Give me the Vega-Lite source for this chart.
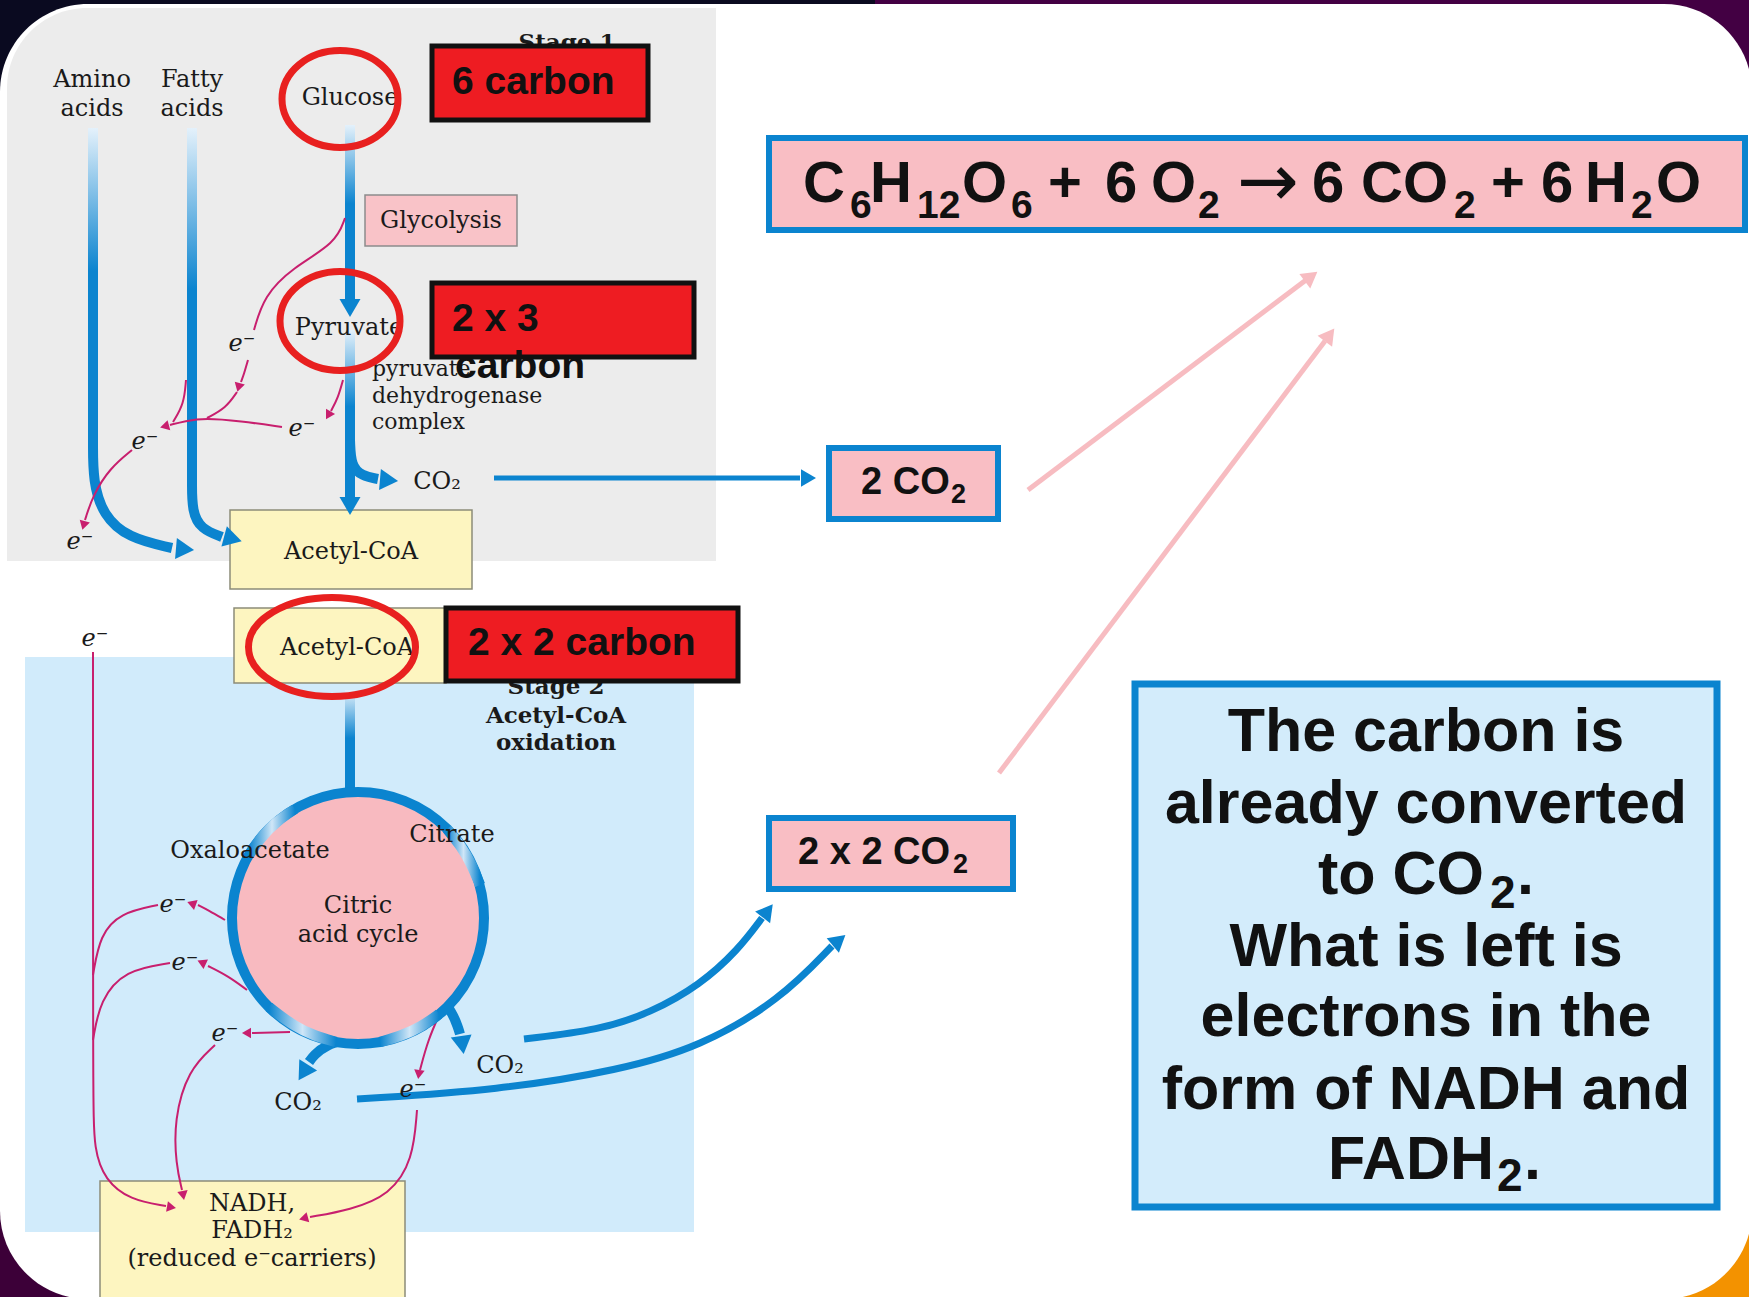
{
 "$schema": "https://vega.github.io/schema/vega-lite/v6.json",
 "width": 1749, "height": 1297,
 "autosize": {"type": "none"},
 "padding": 0,
 "background": "#0a0a20",
 "config": {"view": {"stroke": null}},
 "datasets": {
  "bg": [
   {"k": "tl", "x": 0, "x2": 875, "y": 0, "y2": 648},
   {"k": "tr", "x": 875, "x2": 1749, "y": 0, "y2": 648},
   {"k": "bl", "x": 0, "x2": 875, "y": 648, "y2": 1297},
   {"k": "br", "x": 875, "x2": 1749, "y": 648, "y2": 1297}
  ],
  "panel": [{"x": 0, "x2": 1752, "y": 4, "y2": 1299}],
  "stages": [
   {"k": "s1", "x": 7, "x2": 716, "y": 8, "y2": 561},
   {"k": "s2", "x": 25, "x2": 694, "y": 657, "y2": 1232}
  ],
  "boxes": [
   {"k": "yellow", "x": 230, "x2": 472, "y": 510, "y2": 589},
   {"k": "yellow", "x": 234, "x2": 446, "y": 608, "y2": 683},
   {"k": "yellow", "x": 100, "x2": 405, "y": 1181, "y2": 1310},
   {"k": "glyco", "x": 365, "x2": 517, "y": 195, "y2": 246},
   {"k": "pinkblue", "x": 829, "x2": 998, "y": 448, "y2": 519},
   {"k": "pinkblue", "x": 769, "x2": 1013, "y": 818, "y2": 889},
   {"k": "pinkblue", "x": 769, "x2": 1745, "y": 138, "y2": 230},
   {"k": "note", "x": 1135, "x2": 1717, "y": 684, "y2": 1207}
  ],
  "redboxes": [
   {"x": 432, "x2": 648, "y": 46, "y2": 120},
   {"x": 432, "x2": 694, "y": 283, "y2": 357},
   {"x": 446, "x2": 738, "y": 608, "y2": 681}
  ],
  "shafts": [
   {"x": 93, "y": 128, "y2": 446},
   {"x": 192, "y": 128, "y2": 486},
   {"x": 350, "y": 125, "y2": 300},
   {"x": 350, "y": 330, "y2": 500},
   {"x": 350, "y": 690, "y2": 797}
  ],
  "paths": [
   {"k": "bt", "p": "a1", "o": 1, "x": 93, "y": 440}, {"k": "bt", "p": "a1", "o": 2, "x": 93, "y": 482}, {"k": "bt", "p": "a1", "o": 3, "x": 103, "y": 515}, {"k": "bt", "p": "a1", "o": 4, "x": 128, "y": 538}, {"k": "bt", "p": "a1", "o": 5, "x": 172, "y": 548},
   {"k": "bt", "p": "f1", "o": 1, "x": 192, "y": 480}, {"k": "bt", "p": "f1", "o": 2, "x": 192, "y": 512}, {"k": "bt", "p": "f1", "o": 3, "x": 201, "y": 529}, {"k": "bt", "p": "f1", "o": 4, "x": 222, "y": 537},
   {"k": "bt", "p": "c1", "o": 1, "x": 350, "y": 440}, {"k": "bt", "p": "c1", "o": 2, "x": 351, "y": 466}, {"k": "bt", "p": "c1", "o": 3, "x": 362, "y": 476}, {"k": "bt", "p": "c1", "o": 4, "x": 378, "y": 479},
   {"k": "bt", "p": "r1", "o": 1, "x": 441, "y": 998}, {"k": "bt", "p": "r1", "o": 2, "x": 452, "y": 1012}, {"k": "bt", "p": "r1", "o": 3, "x": 458, "y": 1027}, {"k": "bt", "p": "r1", "o": 4, "x": 460, "y": 1034},
   {"k": "bt", "p": "l1", "o": 1, "x": 347, "y": 1039}, {"k": "bt", "p": "l1", "o": 2, "x": 326, "y": 1045}, {"k": "bt", "p": "l1", "o": 3, "x": 314, "y": 1055}, {"k": "bt", "p": "l1", "o": 4, "x": 309, "y": 1062},
   {"k": "bm", "p": "k1", "o": 1, "x": 524, "y": 1039}, {"k": "bm", "p": "k1", "o": 2, "x": 600, "y": 1030}, {"k": "bm", "p": "k1", "o": 3, "x": 650, "y": 1013}, {"k": "bm", "p": "k1", "o": 4, "x": 700, "y": 985}, {"k": "bm", "p": "k1", "o": 5, "x": 738, "y": 950}, {"k": "bm", "p": "k1", "o": 6, "x": 762, "y": 918},
   {"k": "bm", "p": "k2", "o": 1, "x": 357, "y": 1099}, {"k": "bm", "p": "k2", "o": 2, "x": 500, "y": 1090}, {"k": "bm", "p": "k2", "o": 3, "x": 620, "y": 1070}, {"k": "bm", "p": "k2", "o": 4, "x": 700, "y": 1047}, {"k": "bm", "p": "k2", "o": 5, "x": 780, "y": 1000}, {"k": "bm", "p": "k2", "o": 6, "x": 832, "y": 946},
   {"k": "bn", "p": "h1", "o": 1, "x": 494, "y": 478}, {"k": "bn", "p": "h1", "o": 2, "x": 800, "y": 478},
   {"k": "pk", "p": "q1", "o": 1, "x": 1028, "y": 490}, {"k": "pk", "p": "q1", "o": 2, "x": 1306, "y": 280},
   {"k": "pk", "p": "q2", "o": 1, "x": 999, "y": 773}, {"k": "pk", "p": "q2", "o": 2, "x": 1325, "y": 341},
   {"k": "fade", "p": "g1", "o": 1, "x": 249, "y": 855}, {"k": "fade", "p": "g1", "o": 2, "x": 261, "y": 837}, {"k": "fade", "p": "g1", "o": 3, "x": 277, "y": 821}, {"k": "fade", "p": "g1", "o": 4, "x": 295, "y": 809},
   {"k": "fade", "p": "g2", "o": 1, "x": 447, "y": 829}, {"k": "fade", "p": "g2", "o": 2, "x": 461, "y": 846}, {"k": "fade", "p": "g2", "o": 3, "x": 472, "y": 865}, {"k": "fade", "p": "g2", "o": 4, "x": 480, "y": 885},
   {"k": "fade", "p": "g3", "o": 1, "x": 269, "y": 1007}, {"k": "fade", "p": "g3", "o": 2, "x": 295, "y": 1027}, {"k": "fade", "p": "g3", "o": 3, "x": 315, "y": 1036}, {"k": "fade", "p": "g3", "o": 4, "x": 336, "y": 1042},
   {"k": "fade", "p": "g4", "o": 1, "x": 380, "y": 1042}, {"k": "fade", "p": "g4", "o": 2, "x": 401, "y": 1036}, {"k": "fade", "p": "g4", "o": 3, "x": 421, "y": 1027}, {"k": "fade", "p": "g4", "o": 4, "x": 439, "y": 1014},
   {"k": "mg", "p": "m1", "o": 1, "x": 345, "y": 218}, {"k": "mg", "p": "m1", "o": 2, "x": 336, "y": 243}, {"k": "mg", "p": "m1", "o": 3, "x": 292, "y": 268}, {"k": "mg", "p": "m1", "o": 4, "x": 264, "y": 296}, {"k": "mg", "p": "m1", "o": 5, "x": 254, "y": 330},
   {"k": "mg", "p": "m2", "o": 1, "x": 248, "y": 360}, {"k": "mg", "p": "m2", "o": 2, "x": 244, "y": 374}, {"k": "mg", "p": "m2", "o": 3, "x": 241, "y": 382},
   {"k": "mg", "p": "m3", "o": 1, "x": 343, "y": 380}, {"k": "mg", "p": "m3", "o": 2, "x": 338, "y": 398}, {"k": "mg", "p": "m3", "o": 3, "x": 331, "y": 411},
   {"k": "mg", "p": "m4", "o": 1, "x": 282, "y": 427}, {"k": "mg", "p": "m4", "o": 2, "x": 240, "y": 421}, {"k": "mg", "p": "m4", "o": 3, "x": 205, "y": 418}, {"k": "mg", "p": "m4", "o": 4, "x": 185, "y": 421}, {"k": "mg", "p": "m4", "o": 5, "x": 170, "y": 425},
   {"k": "mg", "p": "m5", "o": 1, "x": 237, "y": 392}, {"k": "mg", "p": "m5", "o": 2, "x": 226, "y": 408}, {"k": "mg", "p": "m5", "o": 3, "x": 207, "y": 418},
   {"k": "mg", "p": "m6", "o": 1, "x": 186, "y": 380}, {"k": "mg", "p": "m6", "o": 2, "x": 184, "y": 404}, {"k": "mg", "p": "m6", "o": 3, "x": 173, "y": 422},
   {"k": "mg", "p": "m7", "o": 1, "x": 132, "y": 450}, {"k": "mg", "p": "m7", "o": 2, "x": 110, "y": 468}, {"k": "mg", "p": "m7", "o": 3, "x": 93, "y": 495}, {"k": "mg", "p": "m7", "o": 4, "x": 85, "y": 520},
   {"k": "mg", "p": "m8", "o": 1, "x": 93, "y": 652}, {"k": "mg", "p": "m8", "o": 2, "x": 93, "y": 1100}, {"k": "mg", "p": "m8", "o": 3, "x": 94, "y": 1150}, {"k": "mg", "p": "m8", "o": 4, "x": 105, "y": 1180}, {"k": "mg", "p": "m8", "o": 5, "x": 130, "y": 1200}, {"k": "mg", "p": "m8", "o": 6, "x": 166, "y": 1206},
   {"k": "mg", "p": "m9", "o": 1, "x": 158, "y": 905}, {"k": "mg", "p": "m9", "o": 2, "x": 120, "y": 913}, {"k": "mg", "p": "m9", "o": 3, "x": 100, "y": 935}, {"k": "mg", "p": "m9", "o": 4, "x": 93, "y": 975},
   {"k": "mg", "p": "m10", "o": 1, "x": 170, "y": 963}, {"k": "mg", "p": "m10", "o": 2, "x": 125, "y": 970}, {"k": "mg", "p": "m10", "o": 3, "x": 100, "y": 1000}, {"k": "mg", "p": "m10", "o": 4, "x": 93, "y": 1040},
   {"k": "mg", "p": "m11", "o": 1, "x": 290, "y": 1032}, {"k": "mg", "p": "m11", "o": 2, "x": 252, "y": 1033},
   {"k": "mg", "p": "m12", "o": 1, "x": 225, "y": 920}, {"k": "mg", "p": "m12", "o": 2, "x": 208, "y": 910}, {"k": "mg", "p": "m12", "o": 3, "x": 198, "y": 905},
   {"k": "mg", "p": "m13", "o": 1, "x": 247, "y": 990}, {"k": "mg", "p": "m13", "o": 2, "x": 228, "y": 976}, {"k": "mg", "p": "m13", "o": 3, "x": 208, "y": 966},
   {"k": "mg", "p": "m14", "o": 1, "x": 215, "y": 1045}, {"k": "mg", "p": "m14", "o": 2, "x": 188, "y": 1070}, {"k": "mg", "p": "m14", "o": 3, "x": 174, "y": 1120}, {"k": "mg", "p": "m14", "o": 4, "x": 176, "y": 1165}, {"k": "mg", "p": "m14", "o": 5, "x": 182, "y": 1190},
   {"k": "mg", "p": "m15", "o": 1, "x": 440, "y": 1013}, {"k": "mg", "p": "m15", "o": 2, "x": 428, "y": 1040}, {"k": "mg", "p": "m15", "o": 3, "x": 420, "y": 1070},
   {"k": "mg", "p": "m16", "o": 1, "x": 417, "y": 1110}, {"k": "mg", "p": "m16", "o": 2, "x": 413, "y": 1160}, {"k": "mg", "p": "m16", "o": 3, "x": 390, "y": 1195}, {"k": "mg", "p": "m16", "o": 4, "x": 350, "y": 1210}, {"k": "mg", "p": "m16", "o": 5, "x": 310, "y": 1217}
  ],
  "heads": [
   {"k": "bt", "x": 350, "y": 305, "a": 180}, {"k": "bt", "x": 350, "y": 503, "a": 180}, {"k": "bt", "x": 386, "y": 480, "a": 95},
   {"k": "bt", "x": 182, "y": 549, "a": 95}, {"k": "bt", "x": 230, "y": 538, "a": 105}, {"k": "bt", "x": 412, "y": 812, "a": 119},
   {"k": "bt", "x": 249, "y": 870, "a": 20}, {"k": "bt", "x": 462, "y": 1042, "a": 172}, {"k": "bt", "x": 305, "y": 1070, "a": 212},
   {"k": "bm", "x": 766, "y": 913, "a": 38}, {"k": "bm", "x": 837, "y": 942, "a": 50},
   {"k": "bn", "x": 806, "y": 478, "a": 90},
   {"k": "pk", "x": 1309, "y": 278, "a": 53}, {"k": "pk", "x": 1328, "y": 337, "a": 37},
   {"k": "mg", "x": 239, "y": 386, "a": 195}, {"k": "mg", "x": 329, "y": 414, "a": 210}, {"k": "mg", "x": 166, "y": 426, "a": 255},
   {"k": "mg", "x": 84, "y": 524, "a": 195}, {"k": "mg", "x": 193, "y": 904, "a": 290}, {"k": "mg", "x": 203, "y": 963, "a": 295},
   {"k": "mg", "x": 248, "y": 1033, "a": 270}, {"k": "mg", "x": 419, "y": 1073, "a": 188}, {"k": "mg", "x": 183, "y": 1194, "a": 170},
   {"k": "mg", "x": 170, "y": 1207, "a": 100}, {"k": "mg", "x": 305, "y": 1218, "a": 255}
  ],
  "cycle": [{"x": 358, "y": 918}],
  "ellipses": [
   {"n": "glucose", "x": 340, "y": 99},
   {"n": "pyruvate", "x": 340, "y": 321},
   {"n": "acetyl", "x": 332, "y": 647}
  ],
  "texts": [
   {"g": "serif", "t": "Amino", "x": 92, "y": 87}, {"g": "serif", "t": "acids", "x": 92, "y": 116},
   {"g": "serif", "t": "Fatty", "x": 192, "y": 87}, {"g": "serif", "t": "acids", "x": 192, "y": 116},
   {"g": "serif", "t": "Glucose", "x": 350, "y": 105}, {"g": "serif", "t": "Glycolysis", "x": 441, "y": 228},
   {"g": "serif", "t": "Pyruvate", "x": 349, "y": 335}, {"g": "serif", "t": "Acetyl-CoA", "x": 351, "y": 559},
   {"g": "serif", "t": "Acetyl-CoA", "x": 347, "y": 655}, {"g": "serif", "t": "Citrate", "x": 452, "y": 842},
   {"g": "serif", "t": "Oxaloacetate", "x": 250, "y": 858}, {"g": "serif", "t": "Citric", "x": 358, "y": 913},
   {"g": "serif", "t": "acid cycle", "x": 358, "y": 942}, {"g": "serif", "t": "NADH,", "x": 252, "y": 1211},
   {"g": "serif", "t": "FADH₂", "x": 252, "y": 1238}, {"g": "serif", "t": "(reduced e⁻carriers)", "x": 252, "y": 1266},
   {"g": "serif", "t": "CO₂", "x": 437, "y": 489}, {"g": "serif", "t": "CO₂", "x": 298, "y": 1110}, {"g": "serif", "t": "CO₂", "x": 500, "y": 1073},
   {"g": "serifL", "t": "pyruvate", "x": 372, "y": 376}, {"g": "serifL", "t": "dehydrogenase", "x": 372, "y": 403}, {"g": "serifL", "t": "complex", "x": 372, "y": 429},
   {"g": "serifB", "t": "Stage 1", "x": 567, "y": 50}, {"g": "serifB", "t": "Stage 2", "x": 556, "y": 694},
   {"g": "serifB", "t": "Acetyl-CoA", "x": 556, "y": 723}, {"g": "serifB", "t": "oxidation", "x": 556, "y": 750},
   {"g": "e", "t": "e⁻", "x": 242, "y": 351}, {"g": "e", "t": "e⁻", "x": 302, "y": 436}, {"g": "e", "t": "e⁻", "x": 145, "y": 449},
   {"g": "e", "t": "e⁻", "x": 80, "y": 549}, {"g": "e", "t": "e⁻", "x": 95, "y": 646}, {"g": "e", "t": "e⁻", "x": 173, "y": 912},
   {"g": "e", "t": "e⁻", "x": 185, "y": 970}, {"g": "e", "t": "e⁻", "x": 225, "y": 1041}, {"g": "e", "t": "e⁻", "x": 413, "y": 1097},
   {"g": "red", "t": "6 carbon", "x": 452, "y": 94}, {"g": "red", "t": "2 x 3", "x": 452, "y": 331},
   {"g": "red", "t": "carbon", "x": 455, "y": 378}, {"g": "red", "t": "2 x 2 carbon", "x": 468, "y": 655},
   {"g": "co2", "t": "2 CO", "x": 861, "y": 494}, {"g": "co2Sub", "t": "2", "x": 951, "y": 503},
   {"g": "co2", "t": "2 x 2 CO", "x": 798, "y": 864}, {"g": "co2Sub", "t": "2", "x": 953, "y": 873},
   {"g": "eqMain", "t": "C", "x": 803, "y": 202}, {"g": "eqSub", "t": "6", "x": 850, "y": 218},
   {"g": "eqMain", "t": "H", "x": 870, "y": 202}, {"g": "eqSub", "t": "12", "x": 917, "y": 218},
   {"g": "eqMain", "t": "O", "x": 962, "y": 202}, {"g": "eqSub", "t": "6", "x": 1011, "y": 218},
   {"g": "eqMain", "t": "+", "x": 1048, "y": 202}, {"g": "eqMain", "t": "6", "x": 1105, "y": 202},
   {"g": "eqMain", "t": "O", "x": 1151, "y": 202}, {"g": "eqSub", "t": "2", "x": 1198, "y": 218},
   {"g": "eqArrow", "t": "→", "x": 1268, "y": 206},
   {"g": "eqMain", "t": "6", "x": 1312, "y": 202}, {"g": "eqMain", "t": "CO", "x": 1361, "y": 202}, {"g": "eqSub", "t": "2", "x": 1454, "y": 218},
   {"g": "eqMain", "t": "+", "x": 1491, "y": 202}, {"g": "eqMain", "t": "6", "x": 1541, "y": 202},
   {"g": "eqMain", "t": "H", "x": 1585, "y": 202}, {"g": "eqSub", "t": "2", "x": 1631, "y": 218}, {"g": "eqMain", "t": "O", "x": 1656, "y": 202},
   {"g": "note", "t": "The carbon is", "x": 1426, "y": 751}, {"g": "note", "t": "already converted", "x": 1426, "y": 823},
   {"g": "noteR", "t": "to CO", "x": 1484, "y": 894}, {"g": "noteSub", "t": "2", "x": 1490, "y": 908}, {"g": "noteL", "t": ".", "x": 1517, "y": 894},
   {"g": "note", "t": "What is left is", "x": 1426, "y": 966},
   {"g": "note", "t": "electrons in the", "x": 1426, "y": 1036}, {"g": "note", "t": "form of NADH and", "x": 1426, "y": 1109},
   {"g": "noteR", "t": "FADH", "x": 1494, "y": 1179}, {"g": "noteSub", "t": "2", "x": 1497, "y": 1191}, {"g": "noteL", "t": ".", "x": 1524, "y": 1179}
  ]
 },
 "encoding": {
  "x": {"field": "x", "type": "quantitative", "scale": {"domain": [0, 1749], "nice": false, "zero": false, "padding": 0}, "axis": null},
  "y": {"field": "y", "type": "quantitative", "scale": {"domain": [0, 1297], "nice": false, "zero": false, "padding": 0, "reverse": true}, "axis": null}
 },
 "layer": [
  {"data": {"name": "bg"}, "mark": {"type": "rect"},
   "encoding": {"x2": {"field": "x2"}, "y2": {"field": "y2"},
    "color": {"field": "k", "type": "nominal", "scale": {"domain": ["tl", "tr", "bl", "br"], "range": ["#0a0a20", "#430043", "#3c0038", "#f39200"]}, "legend": null}}},
  {"data": {"name": "panel"}, "mark": {"type": "rect", "color": "#ffffff", "cornerRadius": 88},
   "encoding": {"x2": {"field": "x2"}, "y2": {"field": "y2"}}},
  {"data": {"name": "stages"}, "transform": [{"filter": "datum.k == 's1'"}], "mark": {"type": "rect", "color": "#ececec", "cornerRadiusTopLeft": 80},
   "encoding": {"x2": {"field": "x2"}, "y2": {"field": "y2"}}},
  {"data": {"name": "stages"}, "transform": [{"filter": "datum.k == 's2'"}], "mark": {"type": "rect", "color": "#d1ebfb"},
   "encoding": {"x2": {"field": "x2"}, "y2": {"field": "y2"}}},
  {"data": {"name": "boxes"}, "transform": [{"filter": "datum.k == 'yellow'"}], "mark": {"type": "rect", "fill": "#fdf5c0", "stroke": "#8c8c78", "strokeWidth": 1.5},
   "encoding": {"x2": {"field": "x2"}, "y2": {"field": "y2"}}},
  {"data": {"name": "boxes"}, "transform": [{"filter": "datum.k == 'glyco'"}], "mark": {"type": "rect", "fill": "#f9c3c8", "stroke": "#8c8c8c", "strokeWidth": 1.5},
   "encoding": {"x2": {"field": "x2"}, "y2": {"field": "y2"}}},
  {"data": {"name": "boxes"}, "transform": [{"filter": "datum.k == 'pinkblue'"}], "mark": {"type": "rect", "fill": "#f9bec4", "stroke": "#0b84cf", "strokeWidth": 6},
   "encoding": {"x2": {"field": "x2"}, "y2": {"field": "y2"}}},
  {"data": {"name": "boxes"}, "transform": [{"filter": "datum.k == 'note'"}], "mark": {"type": "rect", "fill": "#d3ecfb", "stroke": "#0b84cf", "strokeWidth": 7},
   "encoding": {"x2": {"field": "x2"}, "y2": {"field": "y2"}}},
  {"data": {"name": "shafts"},
   "mark": {"type": "bar", "width": 10, "fill": {"gradient": "linear", "x1": 0, "y1": 0, "x2": 0, "y2": 1, "stops": [{"offset": 0, "color": "#e4f1fb"}, {"offset": 0.45, "color": "#0b84cf"}, {"offset": 1, "color": "#0b84cf"}]}},
   "encoding": {"y2": {"field": "y2"}}},
  {"data": {"name": "paths"}, "transform": [{"filter": "datum.k == 'bt'"}], "mark": {"type": "line", "interpolate": "basis", "color": "#0b84cf", "strokeWidth": 10},
   "encoding": {"detail": {"field": "p"}, "order": {"field": "o"}}},
  {"data": {"name": "paths"}, "transform": [{"filter": "datum.k == 'bm'"}], "mark": {"type": "line", "interpolate": "basis", "color": "#0b84cf", "strokeWidth": 7},
   "encoding": {"detail": {"field": "p"}, "order": {"field": "o"}}},
  {"data": {"name": "paths"}, "transform": [{"filter": "datum.k == 'bn'"}], "mark": {"type": "line", "color": "#0b84cf", "strokeWidth": 5},
   "encoding": {"detail": {"field": "p"}, "order": {"field": "o"}}},
  {"data": {"name": "paths"}, "transform": [{"filter": "datum.k == 'pk'"}], "mark": {"type": "line", "color": "#f7bcc1", "strokeWidth": 5},
   "encoding": {"detail": {"field": "p"}, "order": {"field": "o"}}},
  {"data": {"name": "paths"}, "transform": [{"filter": "datum.k == 'mg'"}], "mark": {"type": "line", "interpolate": "basis", "color": "#c81f6e", "strokeWidth": 2},
   "encoding": {"detail": {"field": "p"}, "order": {"field": "o"}}},
  {"data": {"name": "heads"}, "transform": [{"filter": "datum.k == 'bt'"}], "mark": {"type": "point", "shape": "triangle", "filled": true, "color": "#0b84cf", "size": 440, "opacity": 1},
   "encoding": {"angle": {"field": "a", "type": "quantitative", "scale": null}}},
  {"data": {"name": "heads"}, "transform": [{"filter": "datum.k == 'bm'"}], "mark": {"type": "point", "shape": "triangle", "filled": true, "color": "#0b84cf", "size": 360, "opacity": 1},
   "encoding": {"angle": {"field": "a", "type": "quantitative", "scale": null}}},
  {"data": {"name": "heads"}, "transform": [{"filter": "datum.k == 'bn'"}], "mark": {"type": "point", "shape": "triangle", "filled": true, "color": "#0b84cf", "size": 300, "opacity": 1},
   "encoding": {"angle": {"field": "a", "type": "quantitative", "scale": null}}},
  {"data": {"name": "heads"}, "transform": [{"filter": "datum.k == 'pk'"}], "mark": {"type": "point", "shape": "triangle", "filled": true, "color": "#f7bcc1", "size": 330, "opacity": 1},
   "encoding": {"angle": {"field": "a", "type": "quantitative", "scale": null}}},
  {"data": {"name": "heads"}, "transform": [{"filter": "datum.k == 'mg'"}], "mark": {"type": "point", "shape": "triangle", "filled": true, "color": "#c81f6e", "size": 110, "opacity": 1},
   "encoding": {"angle": {"field": "a", "type": "quantitative", "scale": null}}},
  {"data": {"name": "cycle"}, "mark": {"type": "point", "shape": "circle", "filled": true, "fill": "#f8bac0", "stroke": "#0b84cf", "strokeWidth": 10, "size": 63504, "opacity": 1}},
  {"data": {"name": "paths"}, "transform": [{"filter": "datum.k == 'fade'"}],
   "mark": {"type": "line", "interpolate": "basis", "strokeWidth": 10.5, "strokeCap": "butt",
    "stroke": {"gradient": "linear", "x1": 0, "y1": 0, "x2": 1, "y2": 0, "stops": [{"offset": 0, "color": "#0b84cf"}, {"offset": 0.5, "color": "#cfe6f7"}, {"offset": 1, "color": "#0b84cf"}]}},
   "encoding": {"detail": {"field": "p"}, "order": {"field": "o"}}},
  {"data": {"name": "texts"}, "transform": [{"filter": "datum.g == 'serif'"}],
   "mark": {"type": "text", "font": "DejaVu Serif", "fontSize": 24, "align": "center", "baseline": "alphabetic", "color": "#1a1a1a"},
   "encoding": {"text": {"field": "t"}}},
  {"data": {"name": "texts"}, "transform": [{"filter": "datum.g == 'serifL'"}],
   "mark": {"type": "text", "font": "DejaVu Serif", "fontSize": 22, "align": "left", "baseline": "alphabetic", "color": "#1a1a1a"},
   "encoding": {"text": {"field": "t"}}},
  {"data": {"name": "texts"}, "transform": [{"filter": "datum.g == 'serifB'"}],
   "mark": {"type": "text", "font": "DejaVu Serif", "fontSize": 23, "fontWeight": "bold", "align": "center", "baseline": "alphabetic", "color": "#1a1a1a"},
   "encoding": {"text": {"field": "t"}}},
  {"data": {"name": "texts"}, "transform": [{"filter": "datum.g == 'e'"}],
   "mark": {"type": "text", "font": "DejaVu Serif", "fontSize": 24, "fontStyle": "italic", "align": "center", "baseline": "alphabetic", "color": "#1a1a1a"},
   "encoding": {"text": {"field": "t"}}},
  {"data": {"name": "redboxes"}, "mark": {"type": "rect", "fill": "#ee1c22", "stroke": "#111111", "strokeWidth": 5},
   "encoding": {"x2": {"field": "x2"}, "y2": {"field": "y2"}}},
  {"data": {"name": "texts"}, "transform": [{"filter": "datum.g == 'red'"}],
   "mark": {"type": "text", "font": "Liberation Sans", "fontSize": 39, "fontWeight": "bold", "align": "left", "baseline": "alphabetic", "color": "#111111"},
   "encoding": {"text": {"field": "t"}}},
  {"data": {"name": "texts"}, "transform": [{"filter": "datum.g == 'co2'"}],
   "mark": {"type": "text", "font": "Liberation Sans", "fontSize": 38, "fontWeight": "bold", "align": "left", "baseline": "alphabetic", "color": "#111111"},
   "encoding": {"text": {"field": "t"}}},
  {"data": {"name": "texts"}, "transform": [{"filter": "datum.g == 'co2Sub'"}],
   "mark": {"type": "text", "font": "Liberation Sans", "fontSize": 27, "fontWeight": "bold", "align": "left", "baseline": "alphabetic", "color": "#111111"},
   "encoding": {"text": {"field": "t"}}},
  {"data": {"name": "texts"}, "transform": [{"filter": "datum.g == 'eqMain'"}],
   "mark": {"type": "text", "font": "Liberation Sans", "fontSize": 58, "fontWeight": "bold", "align": "left", "baseline": "alphabetic", "color": "#111111"},
   "encoding": {"text": {"field": "t"}}},
  {"data": {"name": "texts"}, "transform": [{"filter": "datum.g == 'eqSub'"}],
   "mark": {"type": "text", "font": "Liberation Sans", "fontSize": 39, "fontWeight": "bold", "align": "left", "baseline": "alphabetic", "color": "#111111"},
   "encoding": {"text": {"field": "t"}}},
  {"data": {"name": "texts"}, "transform": [{"filter": "datum.g == 'eqArrow'"}],
   "mark": {"type": "text", "font": "DejaVu Sans", "fontSize": 74, "align": "center", "baseline": "alphabetic", "color": "#111111"},
   "encoding": {"text": {"field": "t"}}},
  {"data": {"name": "texts"}, "transform": [{"filter": "datum.g == 'note'"}],
   "mark": {"type": "text", "font": "Liberation Sans", "fontSize": 61, "fontWeight": "bold", "align": "center", "baseline": "alphabetic", "color": "#111111"},
   "encoding": {"text": {"field": "t"}}},
  {"data": {"name": "texts"}, "transform": [{"filter": "datum.g == 'noteR'"}],
   "mark": {"type": "text", "font": "Liberation Sans", "fontSize": 61, "fontWeight": "bold", "align": "right", "baseline": "alphabetic", "color": "#111111"},
   "encoding": {"text": {"field": "t"}}},
  {"data": {"name": "texts"}, "transform": [{"filter": "datum.g == 'noteL'"}],
   "mark": {"type": "text", "font": "Liberation Sans", "fontSize": 61, "fontWeight": "bold", "align": "left", "baseline": "alphabetic", "color": "#111111"},
   "encoding": {"text": {"field": "t"}}},
  {"data": {"name": "texts"}, "transform": [{"filter": "datum.g == 'noteSub'"}],
   "mark": {"type": "text", "font": "Liberation Sans", "fontSize": 46, "fontWeight": "bold", "align": "left", "baseline": "alphabetic", "color": "#111111"},
   "encoding": {"text": {"field": "t"}}},
  {"data": {"name": "ellipses"}, "transform": [{"filter": "datum.n == 'glucose'"}],
   "mark": {"type": "point", "shape": "M-1,0A1,0.836,0,1,1,1,0A1,0.836,0,1,1,-1,0Z", "filled": false, "stroke": "#e8201f", "strokeWidth": 7, "size": 13456, "opacity": 1}},
  {"data": {"name": "ellipses"}, "transform": [{"filter": "datum.n == 'pyruvate'"}],
   "mark": {"type": "point", "shape": "M-1,0A1,0.825,0,1,1,1,0A1,0.825,0,1,1,-1,0Z", "filled": false, "stroke": "#e8201f", "strokeWidth": 7, "size": 14400, "opacity": 1}},
  {"data": {"name": "ellipses"}, "transform": [{"filter": "datum.n == 'acetyl'"}],
   "mark": {"type": "point", "shape": "M-1,0A1,0.593,0,1,1,1,0A1,0.593,0,1,1,-1,0Z", "filled": false, "stroke": "#e8201f", "strokeWidth": 7, "size": 27889, "opacity": 1}}
 ]
}
